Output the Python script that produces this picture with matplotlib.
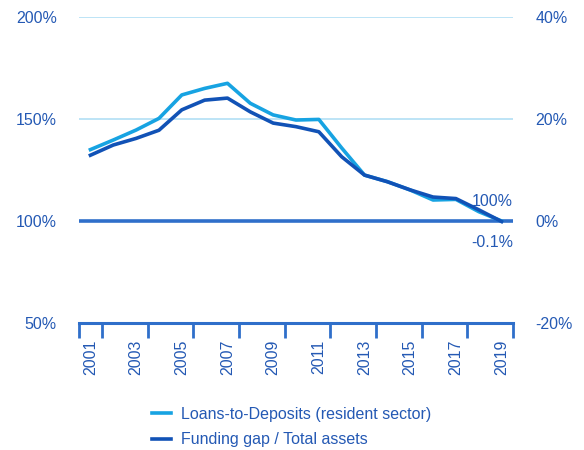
import numpy as np
import matplotlib.pyplot as plt

plt.rcParams['font.family'] = ['Liberation Sans', 'DejaVu Sans']

# data
years = np.arange(2001, 2020)
loans_to_deposits = [135.0, 139.7, 144.6, 150.3, 161.8, 165.0, 167.5, 157.7, 152.0, 149.5,
                     149.8, 135.8, 122.5, 119.3, 115.2, 110.3, 110.6, 104.6, 100.0]
funding_gap = [12.9, 14.9, 16.2, 17.8, 21.8, 23.7, 24.1, 21.4, 19.2, 18.5,
               17.5, 12.6, 9.0, 7.7, 6.1, 4.7, 4.4, 2.2, -0.1]
left_ticks = [50, 100, 150, 200]
right_ticks = [-20, 0, 20, 40]

text_c = '#2459b4'
light = '#17a3e2'
dark = '#1152b6'

fig = plt.figure(figsize=(5.84, 4.5), dpi=100)
ax = fig.add_axes([0.1353, 0.2822, 0.7431, 0.68])
ax2 = ax.twinx()

ax.set_xlim(years[0] - 0.5, years[-1] + 0.5)
ax.set_ylim(50, 200)
ax2.set_ylim(-20, 40)

for g in [150, 200]:
    ax.axhline(g, color='#bde4f6', lw=1.4, zorder=1)
ax.axhline(100, color='#2f6fca', lw=2.6, zorder=2)

ax.plot(years, loans_to_deposits, color=light, lw=2.6, zorder=3,
        solid_joinstyle='round', label='Loans-to-Deposits (resident sector)')
ax2.plot(years, funding_gap, color=dark, lw=2.6, zorder=4,
         solid_joinstyle='round')
ax.plot([], [], color=dark, lw=2.6, label='Funding gap / Total assets')

ax.text(years[-1] + 0.5, loans_to_deposits[-1] + 6, '%d%%' % round(loans_to_deposits[-1]),
        color=text_c, fontsize=11.5, ha='right', va='bottom')
ax2.text(years[-1] + 0.5, funding_gap[-1] - 2.6, '%.1f%%' % funding_gap[-1],
         color=text_c, fontsize=11.5, ha='right', va='top')

for a in (ax, ax2):
    for s in ['top', 'left', 'right', 'bottom']:
        a.spines[s].set_visible(False)

ax.spines['bottom'].set_visible(True)
ax.spines['bottom'].set_color('#2f6fca')
ax.spines['bottom'].set_linewidth(2.2)

major = [years[0] - 0.5] + [y + 0.5 for y in years if y % 2 == 1]
ax.set_xticks(major)
ax.set_xticklabels([''] * len(major))
ax.tick_params(axis='x', which='major', length=11, width=2, color='#2f6fca', direction='out')
ax.set_xticks(years[::2], minor=True)
ax.set_xticklabels([str(y) for y in years[::2]], minor=True, rotation=90,
                   fontsize=11.5, color=text_c)
ax.tick_params(axis='x', which='minor', length=0, pad=12)

ax.set_yticks(left_ticks)
ax.set_yticklabels(['%d%%' % t for t in left_ticks], fontsize=11.5, color=text_c)
ax.tick_params(axis='y', length=0, pad=16)
ax2.set_yticks(right_ticks)
ax2.set_yticklabels(['%d%%' % t for t in right_ticks], fontsize=11.5, color=text_c)
ax2.tick_params(axis='y', length=0, pad=16)

leg = ax.legend(loc='upper center', bbox_to_anchor=(0.49, -0.227), frameon=False,
                fontsize=11.5, handlelength=1.2, handletextpad=0.6, labelspacing=0.66)
for t in leg.get_texts():
    t.set_color(text_c)

fig.savefig('out.png', dpi=100)
